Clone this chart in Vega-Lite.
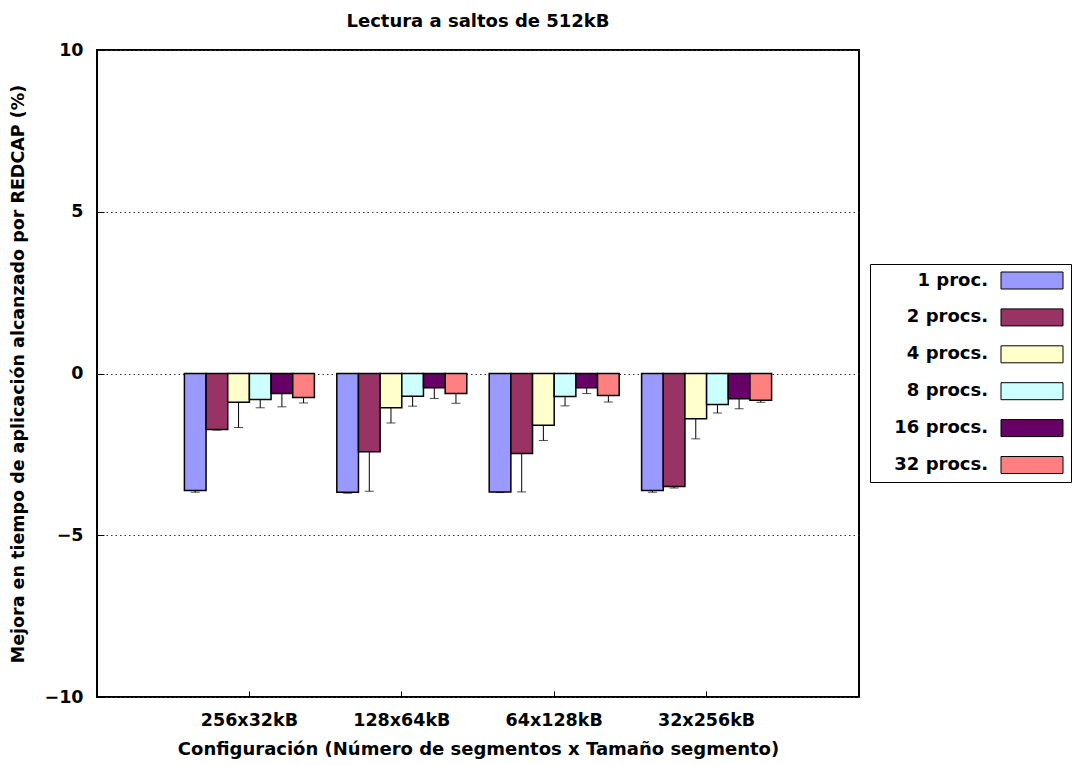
{
  "$schema": "https://vega.github.io/schema/vega-lite/v6.json",
  "autosize": {"type": "none"},
  "padding": {"left": 97, "top": 50, "right": 213, "bottom": 68},
  "width": 762,
  "height": 647,
  "background": "white",
  "title": {
    "text": "Lectura a saltos de 512kB",
    "fontSize": 18,
    "font": "DejaVu Sans",
    "fontWeight": "bold",
    "color": "black",
    "anchor": "middle",
    "offset": 10
  },
  "config": {
    "font": "DejaVu Sans",
    "view": {"stroke": "black", "strokeWidth": 2},
    "axis": {
      "labelFont": "DejaVu Sans",
      "labelFontSize": 17.5,
      "labelFontWeight": "bold",
      "labelColor": "black",
      "titleFont": "DejaVu Sans",
      "titleFontSize": 17.5,
      "titleFontWeight": "bold",
      "titleColor": "black",
      "domain": false,
      "tickColor": "black",
      "tickWidth": 1
    }
  },
  "data": {
    "values": [
      {"config": "256x32kB", "n": 1, "procs": "1 proc", "value": -3.62, "lo": -3.67},
      {"config": "256x32kB", "n": 2, "procs": "2 procs", "value": -1.73, "lo": -1.75},
      {"config": "256x32kB", "n": 4, "procs": "4 procs", "value": -0.89, "lo": -1.67},
      {"config": "256x32kB", "n": 8, "procs": "8 procs", "value": -0.80, "lo": -1.06},
      {"config": "256x32kB", "n": 16, "procs": "16 procs", "value": -0.62, "lo": -1.03},
      {"config": "256x32kB", "n": 32, "procs": "32 procs", "value": -0.74, "lo": -0.91},
      {"config": "128x64kB", "n": 1, "procs": "1 proc", "value": -3.67, "lo": -3.70},
      {"config": "128x64kB", "n": 2, "procs": "2 procs", "value": -2.42, "lo": -3.64},
      {"config": "128x64kB", "n": 4, "procs": "4 procs", "value": -1.06, "lo": -1.53},
      {"config": "128x64kB", "n": 8, "procs": "8 procs", "value": -0.70, "lo": -1.01},
      {"config": "128x64kB", "n": 16, "procs": "16 procs", "value": -0.44, "lo": -0.77},
      {"config": "128x64kB", "n": 32, "procs": "32 procs", "value": -0.62, "lo": -0.92},
      {"config": "64x128kB", "n": 1, "procs": "1 proc", "value": -3.66, "lo": -3.68},
      {"config": "64x128kB", "n": 2, "procs": "2 procs", "value": -2.47, "lo": -3.66},
      {"config": "64x128kB", "n": 4, "procs": "4 procs", "value": -1.60, "lo": -2.07},
      {"config": "64x128kB", "n": 8, "procs": "8 procs", "value": -0.71, "lo": -1.00},
      {"config": "64x128kB", "n": 16, "procs": "16 procs", "value": -0.44, "lo": -0.62},
      {"config": "64x128kB", "n": 32, "procs": "32 procs", "value": -0.68, "lo": -0.88},
      {"config": "32x256kB", "n": 1, "procs": "1 proc", "value": -3.62, "lo": -3.67},
      {"config": "32x256kB", "n": 2, "procs": "2 procs", "value": -3.49, "lo": -3.54},
      {"config": "32x256kB", "n": 4, "procs": "4 procs", "value": -1.40, "lo": -2.02},
      {"config": "32x256kB", "n": 8, "procs": "8 procs", "value": -0.96, "lo": -1.22},
      {"config": "32x256kB", "n": 16, "procs": "16 procs", "value": -0.78, "lo": -1.09},
      {"config": "32x256kB", "n": 32, "procs": "32 procs", "value": -0.83, "lo": -0.89}
    ]
  },
  "encoding": {
    "x": {
      "field": "config",
      "type": "nominal",
      "sort": ["256x32kB", "128x64kB", "64x128kB", "32x256kB"],
      "scale": {"paddingInner": 0.147, "paddingOuter": 0.5735},
      "axis": {
        "title": "Configuración (Número de segmentos x Tamaño segmento)",
        "titleFontSize": 18,
        "labelAngle": 0,
        "tickSize": -6,
        "labelPadding": 20,
        "titlePadding": 12,
        "grid": false
      }
    },
    "xOffset": {
      "field": "n",
      "type": "ordinal",
      "scale": {"paddingInner": 0, "paddingOuter": 0}
    }
  },
  "layer": [
    {
      "mark": {"type": "rule", "color": "black", "strokeWidth": 1},
      "encoding": {
        "y": {
          "field": "lo",
          "type": "quantitative",
          "scale": {"domain": [-10, 10], "nice": false, "zero": false},
          "axis": {
            "title": "Mejora en tiempo de aplicación alcanzado por REDCAP (%)",
            "values": [-10, -5, 0, 5, 10],
            "tickSize": -7,
            "labelPadding": 21,
            "titlePadding": 16,
            "grid": true,
            "gridColor": "#333333",
            "gridDash": [1.5, 3],
            "gridWidth": 1
          }
        },
        "y2": {"field": "value"}
      }
    },
    {
      "mark": {"type": "tick", "color": "black", "size": 9, "thickness": 1},
      "encoding": {
        "y": {"field": "lo", "type": "quantitative"}
      }
    },
    {
      "mark": {"type": "bar", "stroke": "black", "strokeWidth": 1.5},
      "encoding": {
        "y": {"field": "value", "type": "quantitative"},
        "y2": {"datum": 0},
        "fill": {
          "field": "procs",
          "type": "nominal",
          "scale": {
            "domain": ["1 proc", "2 procs", "4 procs", "8 procs", "16 procs", "32 procs"],
            "range": ["#9999ff", "#993366", "#ffffcc", "#ccffff", "#660066", "#ff8080"]
          },
          "legend": {
            "title": null,
            "orient": "none",
            "legendX": 773,
            "legendY": 214,
            "direction": "vertical",
            "padding": 6,
            "strokeColor": "black",
            "fillColor": "white",
            "symbolType": "M-3.1,-0.85H3.1V0.85H-3.1Z",
            "symbolSize": 400,
            "symbolStrokeColor": "black",
            "symbolStrokeWidth": 1,
            "symbolOffset": 145.5,
            "rowPadding": 15.9,
            "labelAlign": "right",
            "labelBaseline": "middle",
            "labelOffset": -54.5,
            "labelExpr": "datum.label + '.'",
            "labelFont": "DejaVu Sans",
            "labelFontSize": 18,
            "labelFontWeight": "bold",
            "labelColor": "black",
            "labelLimit": 300
          }
        }
      }
    }
  ]
}
